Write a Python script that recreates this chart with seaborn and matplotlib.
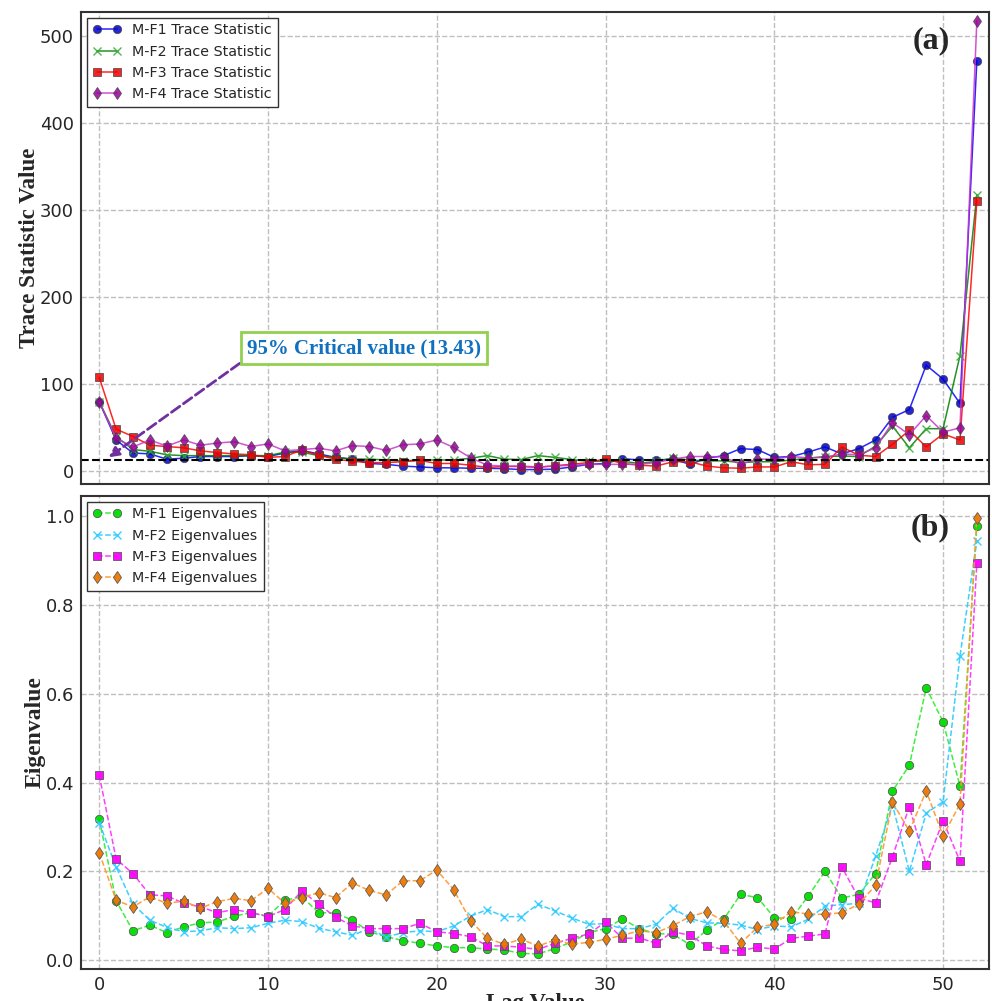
import numpy as np
import pandas as pd
import matplotlib
matplotlib.use("Agg")
import matplotlib.pyplot as plt
import seaborn as sns

# lag values 0..52
lags = list(range(53))

# trace statistics (panel a)
mf1_trace = [80, 36, 21, 20, 14, 15, 17, 17, 17, 18, 17, 21, 24, 20, 16, 14, 9, 8, 6, 5,
             4, 4, 3.5, 3.5, 3, 2, 2, 2.5, 5, 8, 9, 14.5, 13, 13, 14, 8, 15, 18, 26, 25,
             16, 17, 22, 28, 20, 26, 36, 62, 71, 122, 106, 78, 472]
mf2_trace = [80, 40, 25, 23, 19, 18, 18, 18, 18, 18, 18, 22, 22, 18, 16, 14, 14, 13, 12, 13,
             13, 13, 15, 18, 14, 13.5, 18, 16, 13.5, 11.5, 11.5, 11.5, 9, 11.5, 15, 13, 12, 12, 10, 11,
             11, 13, 15, 17, 17.5, 17, 29, 52, 27, 49, 49, 133, 318]
mf3_trace = [108, 48.5, 40, 30, 28.5, 27, 23.5, 21.5, 20, 19, 16, 17, 24.5, 18.5, 14, 11.5, 10, 10, 11, 12.5,
             9, 9, 7, 4.5, 5.5, 5.5, 4.5, 6.5, 8, 10, 14.5, 9, 7, 6, 11, 11, 6, 4, 3.5, 5,
             5, 11, 7.5, 8, 28, 18.5, 17, 31, 47, 28, 43, 36, 311]
mf4_trace = [80, 38, 28, 36, 29, 36, 30, 32.5, 34, 28.5, 31.5, 23.5, 25, 26.5, 23.5, 29.5, 28.5, 24, 30.5, 31.5,
             36, 27.5, 15.5, 7, 6, 6, 5, 6, 7, 8, 8, 8, 8, 10, 14, 17, 17, 16.5, 8, 14,
             14, 17, 15.5, 16, 20, 19, 27, 56, 42, 64, 45, 50, 518]

# eigenvalues (panel b)
mf1_eig = [0.317, 0.134, 0.066, 0.079, 0.062, 0.075, 0.084, 0.086, 0.099, 0.107, 0.099, 0.135, 0.143, 0.107, 0.106, 0.09, 0.064, 0.053, 0.044, 0.038,
           0.032, 0.028, 0.028, 0.025, 0.023, 0.015, 0.014, 0.026, 0.041, 0.062, 0.071, 0.093, 0.071, 0.06, 0.058, 0.035, 0.068, 0.092, 0.148, 0.141,
           0.096, 0.093, 0.144, 0.2, 0.14, 0.148, 0.195, 0.381, 0.439, 0.614, 0.537, 0.392, 0.978]
mf2_eig = [0.31, 0.21, 0.126, 0.09, 0.074, 0.064, 0.066, 0.073, 0.071, 0.073, 0.083, 0.09, 0.087, 0.072, 0.064, 0.056, 0.071, 0.052, 0.062, 0.066,
           0.064, 0.077, 0.099, 0.114, 0.098, 0.098, 0.126, 0.111, 0.095, 0.081, 0.082, 0.071, 0.071, 0.081, 0.117, 0.094, 0.084, 0.083, 0.079, 0.069,
           0.077, 0.075, 0.092, 0.122, 0.125, 0.128, 0.234, 0.35, 0.2, 0.331, 0.357, 0.685, 0.945]
mf3_eig = [0.417, 0.228, 0.195, 0.147, 0.145, 0.128, 0.12, 0.107, 0.114, 0.107, 0.098, 0.114, 0.156, 0.126, 0.097, 0.077, 0.071, 0.071, 0.071, 0.083,
           0.064, 0.06, 0.053, 0.032, 0.032, 0.029, 0.024, 0.038, 0.049, 0.059, 0.086, 0.049, 0.05, 0.038, 0.064, 0.056, 0.032, 0.024, 0.021, 0.029,
           0.025, 0.049, 0.054, 0.059, 0.21, 0.14, 0.129, 0.233, 0.346, 0.215, 0.314, 0.223, 0.894]
mf4_eig = [0.242, 0.135, 0.12, 0.143, 0.128, 0.133, 0.117, 0.132, 0.139, 0.134, 0.162, 0.128, 0.141, 0.152, 0.141, 0.174, 0.157, 0.147, 0.179, 0.179,
           0.203, 0.159, 0.089, 0.049, 0.036, 0.047, 0.032, 0.045, 0.036, 0.04, 0.047, 0.056, 0.066, 0.062, 0.078, 0.098, 0.109, 0.088, 0.038, 0.074,
           0.081, 0.109, 0.104, 0.103, 0.107, 0.126, 0.169, 0.356, 0.291, 0.381, 0.28, 0.352, 0.996]

critical_value = 13.43
trace_labels = ["M-F1 Trace Statistic", "M-F2 Trace Statistic", "M-F3 Trace Statistic", "M-F4 Trace Statistic"]
eig_labels = ["M-F1 Eigenvalues", "M-F2 Eigenvalues", "M-F3 Eigenvalues", "M-F4 Eigenvalues"]

sns.set_style("whitegrid", {"grid.linestyle": "--", "grid.color": "#bfbfbf",
                            "axes.edgecolor": "#333333"})
plt.rcParams["font.family"] = ["DejaVu Sans"]

fig = plt.figure(figsize=(9.92, 10.01), dpi=100)
ax1 = fig.add_axes([81 / 992, 1 - 484 / 1001, 908 / 992, 472 / 1001])
ax2 = fig.add_axes([81 / 992, 1 - 969 / 1001, 908 / 992, 473 / 1001])

serif = "Liberation Serif"

# panel (a): trace statistics
trace_styles = [
    (mf1_trace, "#0000ff", "o", "#0000cc"),
    (mf2_trace, "#008000", "x", "#33aa33"),
    (mf3_trace, "#ff0000", "s", "#ee0000"),
    (mf4_trace, "#cc33cc", "d", "#990099"),
]
for (vals, col, mk, mfc), lab in zip(trace_styles, trace_labels):
    df = pd.DataFrame({"lag": lags, "value": vals})
    sns.lineplot(data=df, x="lag", y="value", ax=ax1, color=col, marker=mk,
                 markersize=6, markerfacecolor=mfc, markeredgecolor="#444444" if mk != "x" else mfc,
                 markeredgewidth=0.6 if mk != "x" else 1.0, linewidth=1.1, alpha=0.85, label=lab)

ax1.axhline(critical_value, color="black", linestyle="--", linewidth=1.5)
ax1.annotate("95% Critical value (13.43)", xy=(0.55, 16), xytext=(8.75, 130),
             fontsize=15, fontweight="bold", family=serif, color="#1070c0",
             ha="left", va="bottom",
             bbox=dict(boxstyle="square,pad=0.3", fc="white", ec="#92d050", lw=2),
             arrowprops=dict(arrowstyle="-|>", linestyle="--", color="#7030a0", lw=2,
                             relpos=(0, 0), mutation_scale=15, shrinkA=0, shrinkB=0))
ax1.set_xlim(-1.08, 52.72)
ax1.set_ylim(-14.6, 528)
ax1.set_yticks([0, 100, 200, 300, 400, 500])
ax1.set_xticks([0, 10, 20, 30, 40, 50])
ax1.set_xticklabels([])
ax1.set_xlabel("")
ax1.set_ylabel("Trace Statistic Value", fontsize=16.5, fontweight="bold", family=serif, labelpad=0)
ax1.text(0.957, 0.94, "(a)", transform=ax1.transAxes, ha="right", va="center",
         fontsize=23, fontweight="bold", family=serif)
leg1 = ax1.legend(loc="upper left", fontsize=10.3, numpoints=2, fancybox=False,
                  edgecolor="#333333", framealpha=1, borderaxespad=0.4)

# panel (b): eigenvalues
eig_styles = [
    (mf1_eig, "#33ee33", "o", "#00dd00"),
    (mf2_eig, "#33ccff", "x", "#33ccff"),
    (mf3_eig, "#ff33ff", "s", "#ff00ff"),
    (mf4_eig, "#ff9933", "d", "#ee7700"),
]
for (vals, col, mk, mfc), lab in zip(eig_styles, eig_labels):
    df = pd.DataFrame({"lag": lags, "value": vals})
    sns.lineplot(data=df, x="lag", y="value", ax=ax2, color=col, marker=mk,
                 markersize=6, markerfacecolor=mfc, markeredgecolor="#555555" if mk != "x" else mfc,
                 markeredgewidth=0.6 if mk != "x" else 1.0, linewidth=1.1, linestyle="--",
                 alpha=0.95, label=lab)

ax2.set_xlim(-1.08, 52.72)
ax2.set_ylim(-0.02, 1.046)
ax2.set_yticks([0.0, 0.2, 0.4, 0.6, 0.8, 1.0])
ax2.set_xticks([0, 10, 20, 30, 40, 50])
ax2.set_xlabel("Lag Value", fontsize=16.5, fontweight="bold", family=serif, labelpad=-1)
ax2.set_ylabel("Eigenvalue", fontsize=17, fontweight="bold", family=serif, labelpad=0)
ax2.text(0.957, 0.932, "(b)", transform=ax2.transAxes, ha="right", va="center",
         fontsize=23, fontweight="bold", family=serif)
leg2 = ax2.legend(loc="upper left", fontsize=10.3, numpoints=2, fancybox=False,
                  edgecolor="#333333", framealpha=1, borderaxespad=0.4)

for ax in (ax1, ax2):
    ax.tick_params(axis="both", labelsize=13, direction="out", length=3, pad=2, color="#333333")
    ax.grid(True, linestyle="--", color="#bfbfbf", linewidth=1)
    for sp in ax.spines.values():
        sp.set_linewidth(1.5)
        sp.set_color("#333333")

fig.savefig("out.png", dpi=100)
